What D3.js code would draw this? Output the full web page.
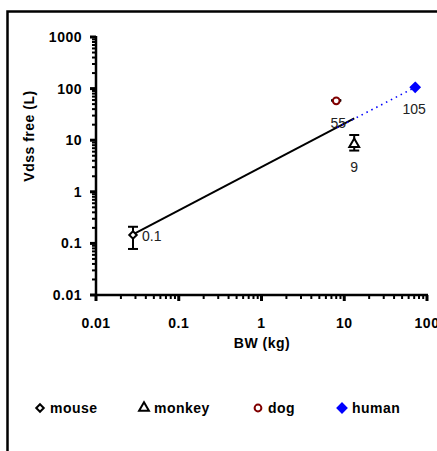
<!DOCTYPE html>
<html>
<head>
<meta charset="utf-8">
<script src="https://cdn.jsdelivr.net/npm/d3@7"></script>
<style>
  body { margin: 0; background: #fff; }
  text { font-family: "Liberation Sans", Arial, sans-serif; }
  text.b { font-weight: bold; font-size: 14px; letter-spacing: 0.5px; }
</style>
</head>
<body>
<div id="chart"></div>
<script>
// species points (body weight kg, Vdss free L, error bar lo/hi, label)
const species = ["mouse", "monkey", "dog", "human"];
const bw = [0.028, 13.2, 8.0, 72];
const vdss = [0.146, 8.4, 58, 106];
const errLo = [0.078, 6.3, 58, null];
const errHi = [0.21, 12.6, 60, null];
const pointLabels = ["0.1", "9", "55", "105"];
// allometric fit line and its extrapolation to human
const fitLine = [[0.028, 0.15], [13.2, 26.5]];
const extrapLine = [[8.2, 17.5], [72, 106]];
const xTicks = [0.01, 0.1, 1, 10, 100];
const yTicks = [0.01, 0.1, 1, 10, 100, 1000];

const W = 437, H = 451;
const svg = d3.select("#chart").append("svg").attr("width", W).attr("height", H);

// outer frame (right/bottom fall outside the picture)
svg.append("path").attr("d", "M7.5,460 V11.5 H450")
  .attr("fill", "none").attr("stroke", "#000").attr("stroke-width", 2.5);

const x = d3.scaleLog().domain([0.01, 100]).range([96, 427]);
const y = d3.scaleLog().domain([0.01, 1000]).range([295, 37]);

function minorTicks(domain) {
  const out = [];
  for (let e = Math.log10(domain[0]); e < Math.log10(domain[1]); e++)
    for (let k = 1; k <= 9; k++) out.push(k * Math.pow(10, e));
  out.push(domain[1]);
  return out;
}
const isMajor = (list, d) => list.some(t => Math.abs(Math.log10(t) - Math.log10(d)) < 1e-6);

// y axis
const gy = svg.append("g");
gy.selectAll("line.t").data(minorTicks(y.domain())).join("line")
  .attr("x1", d => isMajor(yTicks, d) ? 90 : 92).attr("x2", 96)
  .attr("y1", d => y(d)).attr("y2", d => y(d))
  .attr("stroke", "#000").attr("stroke-width", d => isMajor(yTicks, d) ? 3 : 2);
gy.append("line").attr("x1", 96).attr("x2", 96).attr("y1", y(1000) - 1).attr("y2", y(0.01) + 1)
  .attr("stroke", "#000").attr("stroke-width", 2.5);
gy.selectAll("text").data(yTicks).join("text").attr("class", "b")
  .attr("x", 82).attr("y", d => y(d) + 5).attr("text-anchor", "end")
  .text(d => d3.format("~g")(d));

// x axis
const gx = svg.append("g");
gx.selectAll("line.t").data(minorTicks(x.domain())).join("line")
  .attr("x1", d => x(d)).attr("x2", d => x(d))
  .attr("y1", 295).attr("y2", d => isMajor(xTicks, d) ? 301 : 299)
  .attr("stroke", "#000").attr("stroke-width", d => isMajor(xTicks, d) ? 3 : 2);
gx.append("line").attr("x1", 95).attr("x2", x(100) + 1).attr("y1", 295).attr("y2", 295)
  .attr("stroke", "#000").attr("stroke-width", 2.5);
gx.selectAll("text").data(xTicks).join("text").attr("class", "b")
  .attr("x", d => x(d)).attr("y", 328).attr("text-anchor", "middle")
  .text(d => d3.format("~g")(d));

// axis titles
svg.append("text").attr("class", "b").attr("x", 262).attr("y", 348)
  .attr("text-anchor", "middle").text("BW (kg)");
svg.append("text").attr("class", "b").attr("transform", "translate(34,136) rotate(-90)")
  .attr("text-anchor", "middle").text("Vdss free (L)");

// fit lines
const line = d3.line().x(d => x(d[0])).y(d => y(d[1]));
svg.append("path").attr("d", line(fitLine)).attr("fill", "none")
  .attr("stroke", "#000").attr("stroke-width", 2);
svg.append("path").attr("d", line(extrapLine)).attr("fill", "none")
  .attr("stroke", "#0000ff").attr("stroke-width", 1.6).attr("stroke-dasharray", "1.5,4");

// error bars
species.forEach((s, i) => {
  if (errLo[i] == null) return;
  const g = svg.append("g").attr("stroke", "#000").attr("stroke-width", 2);
  const cx = x(bw[i]);
  g.append("line").attr("x1", cx).attr("x2", cx).attr("y1", y(errLo[i])).attr("y2", y(errHi[i]));
  [errLo[i], errHi[i]].forEach(v => g.append("line")
    .attr("x1", cx - 5).attr("x2", cx + 5).attr("y1", y(v)).attr("y2", y(v)));
});

// markers: square diamond, triangle, circle
const diamond = { draw(ctx, size) { const r = Math.sqrt(size / 2);
  ctx.moveTo(0, -r); ctx.lineTo(r, 0); ctx.lineTo(0, r); ctx.lineTo(-r, 0); ctx.closePath(); } };
const sym = {
  mouse: { type: diamond, size: 28, fill: "#fff", stroke: "#000" },
  monkey: { type: d3.symbolTriangle, size: 42, fill: "#fff", stroke: "#000" },
  dog: { type: d3.symbolCircle, size: 36, fill: "#fff", stroke: "#800000" },
  human: { type: diamond, size: 40, fill: "#0000ff", stroke: "#0000ff" }
};
function marker(sel, s) {
  const m = sym[s];
  return sel.append("path").attr("d", d3.symbol().type(m.type).size(m.size)())
    .attr("fill", m.fill).attr("stroke", m.stroke).attr("stroke-width", 2);
}
species.forEach((s, i) => {
  marker(svg, s).attr("transform", `translate(${x(bw[i])},${y(vdss[i])})`);
});

// point labels
const labelOffset = { mouse: [9, 6], monkey: [0, 28], dog: [2, 27], human: [-1, 27] };
species.forEach((s, i) => {
  const o = labelOffset[s];
  svg.append("text").attr("x", x(bw[i]) + o[0]).attr("y", y(vdss[i]) + o[1])
    .attr("text-anchor", s === "mouse" ? "start" : "middle")
    .attr("font-size", 14).attr("fill", "#222").text(pointLabels[i]);
});

// legend
const legendX = [40, 144, 258, 342];
species.forEach((s, i) => {
  marker(svg, s).attr("transform", `translate(${legendX[i]},408)`);
  svg.append("text").attr("class", "b").attr("x", legendX[i] + 10).attr("y", 413).text(s);
});
</script>
</body>
</html>
